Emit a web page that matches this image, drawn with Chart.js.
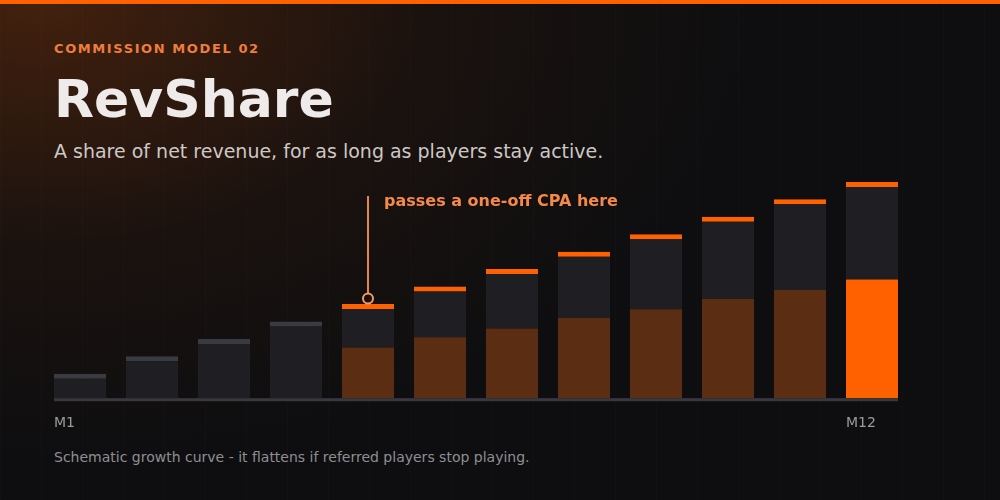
<!DOCTYPE html>
<html lang="en">
<head>
  <meta charset="UTF-8">
  <title>RevShare</title>
  <script src="https://cdn.jsdelivr.net/npm/chart.js"></script>
  <style>
    html, body {
      margin: 0;
      padding: 0;
    }
    body {
      width: 1000px;
      height: 500px;
      overflow: hidden;
      position: relative;
      font-family: "DejaVu Sans", sans-serif;
      background:
        repeating-linear-gradient(90deg, rgba(255,255,255,0.012) 0 1px, transparent 1px 41px),
        radial-gradient(ellipse 720px 460px at 40px 0px, rgba(105,46,12,0.58), rgba(60,28,10,0.25) 55%, rgba(14,14,16,0) 100%),
        #0e0e10;
    }
    .topbar {
      position: absolute;
      left: 0; top: 0;
      width: 1000px; height: 4px;
      background: #ff6000;
    }
    .eyebrow, .title, .subtitle, .footnote {
      position: absolute;
      left: 54px;
      white-space: nowrap;
    }
    .eyebrow {
      top: 42px;
      font-size: 13px;
      line-height: 13px;
      font-weight: bold;
      letter-spacing: 1.6px;
      color: #ee7d3e;
    }
    .title {
      top: 73px;
      font-size: 52px;
      line-height: 52px;
      font-weight: bold;
      color: #efebea;
    }
    .subtitle {
      top: 142px;
      font-size: 19px;
      line-height: 19px;
      color: #cdc8c5;
    }
    .footnote {
      top: 450px;
      font-size: 14px;
      line-height: 14px;
      color: #8e8e92;
    }
    canvas {
      position: absolute;
      left: 0; top: 0;
    }
  </style>
</head>
<body>
  <div class="topbar"></div>
  <div class="eyebrow">COMMISSION MODEL 02</div>
  <div class="title">RevShare</div>
  <div class="subtitle">A share of net revenue, for as long as players stay active.</div>
  <div class="footnote">Schematic growth curve - it flattens if referred players stop playing.</div>
  <div style="position:absolute;left:0;top:0;width:1000px;height:500px;">
    <canvas id="revChart"></canvas>
  </div>

  <script>
    // chart values (schematic units)
    const months = ['M1', 'M2', 'M3', 'M4', 'M5', 'M6', 'M7', 'M8', 'M9', 'M10', 'M11', 'M12'];
    const shownTicks = ['M1', 'M12'];
    const totalValue = [14, 24, 34, 44, 54, 64, 74, 84, 94, 104, 114, 124];
    const shareValue = [0, 0, 0, 0, 29, 35, 40, 46, 51, 57, 62, 68];
    const cpaIndex = 4;
    const cpaText = 'passes a one-off CPA here';

    const restValue = totalValue.map((v, i) => v - shareValue[i]);
    const lastIdx = months.length - 1;

    // base line under the bars + CPA marker
    const decorPlugin = {
      id: 'decor',
      afterDatasetsDraw(chart) {
        const c = chart.ctx;
        const bars = chart.getDatasetMeta(1).data;
        const first = bars[0], last = bars[lastIdx];
        const y0 = chart.scales.y.getPixelForValue(0);

        c.save();
        c.fillStyle = '#38383e';
        c.fillRect(first.x - first.width / 2, y0, (last.x + last.width / 2) - (first.x - first.width / 2), 3);

        const mark = bars[cpaIndex];
        const cy = mark.y - 5.5;
        c.strokeStyle = '#e8834a';
        c.lineWidth = 2;
        c.beginPath();
        c.moveTo(mark.x, chart.chartArea.top + 42);
        c.lineTo(mark.x, cy - 5);
        c.stroke();
        c.strokeStyle = '#f59a63';
        c.beginPath();
        c.arc(mark.x, cy, 5, 0, Math.PI * 2);
        c.stroke();

        c.fillStyle = '#f4894a';
        c.font = 'bold 16px "DejaVu Sans"';
        c.textBaseline = 'alphabetic';
        c.textAlign = 'left';
        c.fillText(cpaText, mark.x + 16, chart.chartArea.top + 51.5);
        c.restore();
      }
    };

    const ctx = document.getElementById('revChart').getContext('2d');
    const revChart = new Chart(ctx, {
      type: 'bar',
      data: {
        labels: months,
        datasets: [{
          label: 'share',
          data: shareValue,
          backgroundColor: months.map((m, i) => i === lastIdx ? '#ff6000' : '#5b2e14'),
          borderWidth: 0,
          categoryPercentage: 1,
          barPercentage: 52 / 72
        }, {
          label: 'rest',
          data: restValue,
          backgroundColor: '#1f1f23',
          borderColor: months.map((m, i) => i < cpaIndex ? '#3a3a41' : '#ff6000'),
          borderWidth: { top: 5, left: 0, right: 0, bottom: 0 },
          borderSkipped: 'start',
          categoryPercentage: 1,
          barPercentage: 52 / 72
        }]
      },
      options: {
        responsive: true,
        maintainAspectRatio: false,
        animation: false,
        layout: {
          padding: { left: 44, right: 92, top: 154, bottom: 59 }
        },
        plugins: {
          legend: { display: false },
          tooltip: { enabled: false }
        },
        scales: {
          x: {
            stacked: true,
            grid: { display: false },
            border: { display: false },
            ticks: {
              autoSkip: false,
              maxRotation: 0,
              align: 'start',
              labelOffset: -26,
              padding: 9,
              color: '#9a9a9e',
              font: { family: 'DejaVu Sans', size: 14 },
              callback: function (val, idx) {
                const lbl = this.getLabelForValue(val);
                return shownTicks.includes(lbl) ? lbl : '';
              }
            }
          },
          y: {
            stacked: true,
            display: false,
            min: 0,
            max: 140
          }
        }
      },
      plugins: [decorPlugin]
    });
  </script>
</body>
</html>
